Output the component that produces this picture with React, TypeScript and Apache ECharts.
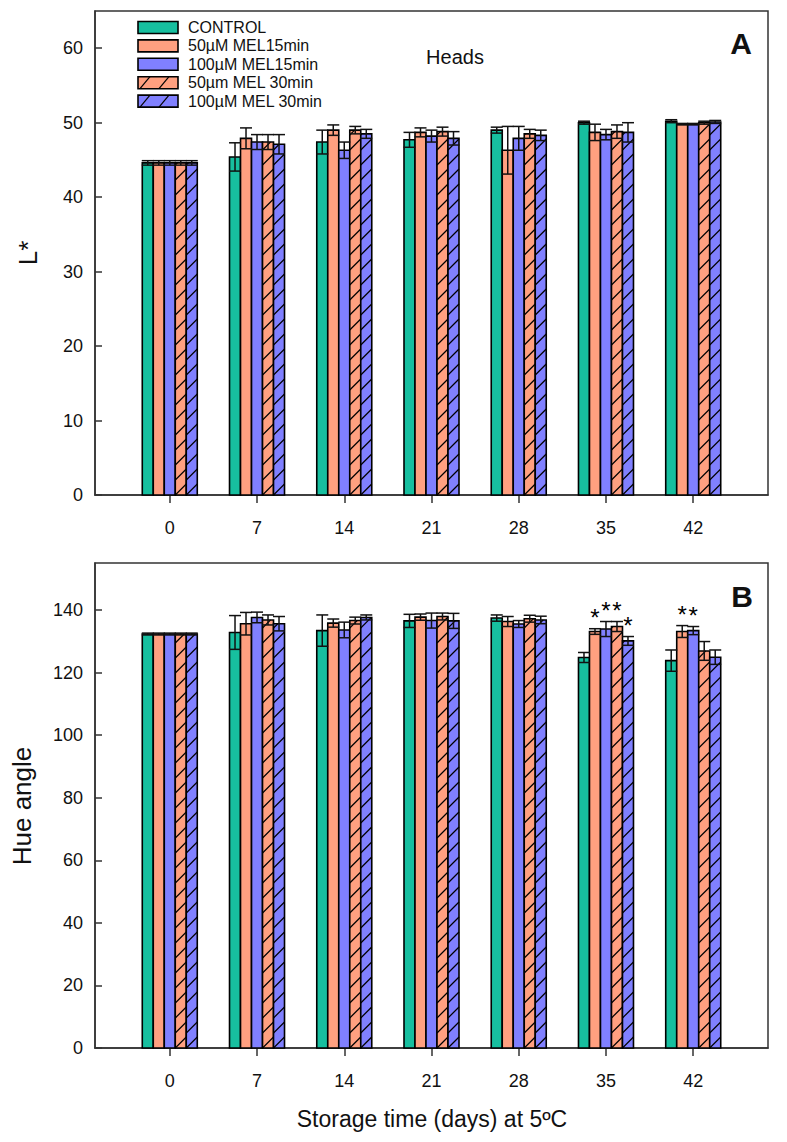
import React, { useEffect, useRef } from "react";
import * as echarts from "echarts";

const FONT = "'Liberation Sans', Arial, Helvetica, sans-serif";

const days = [0, 7, 14, 21, 28, 35, 42];
const treatments = ["CONTROL", "50µM MEL15min", "100µM MEL15min", "50µm MEL 30min", "100µM MEL 30min"];
const treatmentColors = ["#17bf9f", "#ffa080", "#8080ff", "#ffa080", "#8080ff"];
const treatmentHatched = [false, false, false, true, true];

// Panel A: L*
const lControl = [44.6, 45.4, 47.4, 47.7, 49.0, 50.0, 50.2];
const lMel50_15 = [44.6, 47.9, 49.0, 48.7, 46.3, 48.7, 49.8];
const lMel100_15 = [44.6, 47.4, 46.3, 48.2, 47.9, 48.4, 49.8];
const lMel50_30 = [44.6, 47.4, 49.0, 48.8, 48.5, 48.8, 50.0];
const lMel100_30 = [44.6, 47.1, 48.5, 47.9, 48.3, 48.7, 50.1];
const lControlErr = [0.3, 1.9, 1.6, 1.0, 0.4, 0.2, 0.2];
const lMel50_15Err = [0.3, 1.4, 0.7, 0.6, 3.2, 1.1, 0.1];
const lMel100_15Err = [0.3, 1.0, 1.1, 0.8, 1.6, 0.7, 0.1];
const lMel50_30Err = [0.3, 1.0, 0.5, 0.6, 0.6, 0.9, 0.2];
const lMel100_30Err = [0.3, 1.3, 0.6, 0.9, 0.7, 1.3, 0.2];

// Panel B: Hue angle
const hueControl = [132.3, 132.8, 133.4, 136.5, 137.4, 124.8, 123.8];
const hueMel50_15 = [132.3, 135.6, 135.8, 137.7, 136.3, 133.1, 133.1];
const hueMel100_15 = [132.3, 137.6, 133.6, 136.6, 135.5, 133.9, 133.4];
const hueMel50_30 = [132.3, 136.8, 136.6, 137.9, 137.2, 134.7, 126.9];
const hueMel100_30 = [132.3, 135.6, 137.6, 136.5, 136.8, 130.1, 124.9];
const hueControlErr = [0.3, 5.4, 5.0, 2.1, 1.0, 1.6, 3.4];
const hueMel50_15Err = [0.3, 3.6, 1.3, 1.0, 1.6, 0.9, 1.9];
const hueMel100_15Err = [0.3, 1.7, 2.5, 2.4, 1.1, 2.4, 1.3];
const hueMel50_30Err = [0.3, 1.6, 1.1, 1.1, 1.1, 1.6, 3.0];
const hueMel100_30Err = [0.3, 2.3, 0.8, 2.4, 1.2, 1.4, 2.3];
// significance asterisks (1 = "*")
const hueSigControl = [0, 0, 0, 0, 0, 0, 0];
const hueSigMel50_15 = [0, 0, 0, 0, 0, 1, 1];
const hueSigMel100_15 = [0, 0, 0, 0, 0, 1, 1];
const hueSigMel50_30 = [0, 0, 0, 0, 0, 1, 0];
const hueSigMel100_30 = [0, 0, 0, 0, 0, 1, 0];
const noSig = [0, 0, 0, 0, 0, 0, 0];

const lValues = [lControl, lMel50_15, lMel100_15, lMel50_30, lMel100_30];
const lErrors = [lControlErr, lMel50_15Err, lMel100_15Err, lMel50_30Err, lMel100_30Err];
const hueValues = [hueControl, hueMel50_15, hueMel100_15, hueMel50_30, hueMel100_30];
const hueErrors = [hueControlErr, hueMel50_15Err, hueMel100_15Err, hueMel50_30Err, hueMel100_30Err];
const hueSig = [hueSigControl, hueSigMel50_15, hueSigMel100_15, hueSigMel50_30, hueSigMel100_30];

const BAR_W = 11;
const HATCH_SP = 15;
const HATCH_RISE = 11;
const CAP_HALF = 6;

function hatchLines(x0: number, x1: number, yb: number, yt: number, sp: number, rise: number) {
  const out: any[] = [];
  for (let ys = yb; ys > yt + 0.5; ys -= sp) {
    let xe = x1;
    let ye = ys - rise;
    if (ye < yt) {
      const t = (ys - yt) / rise;
      xe = x0 + t * (x1 - x0);
      ye = yt;
    }
    out.push({
      type: "line",
      shape: { x1: x0, y1: ys, x2: xe, y2: ye },
      style: { stroke: "#000", lineWidth: 1.2 },
    });
  }
  return out;
}

const barRender = (ti: number) => (params: any, api: any) => {
  const d = api.value(0);
  const v = api.value(1);
  const p0 = api.coord([d, 0]);
  const p1 = api.coord([d, v]);
  const cx = p0[0] + (ti - 2) * BAR_W;
  const x0 = cx - BAR_W / 2;
  const x1 = cx + BAR_W / 2;
  const shape = { x: x0, y: p1[1], width: BAR_W, height: p0[1] - p1[1] };
  const children: any[] = [
    { type: "rect", shape, style: { fill: treatmentColors[ti], stroke: "none" } },
  ];
  if (treatmentHatched[ti]) children.push(...hatchLines(x0, x1, p0[1], p1[1], HATCH_SP, HATCH_RISE));
  children.push({ type: "rect", shape, style: { fill: "none", stroke: "#000", lineWidth: 1.6 } });
  return { type: "group", children };
};

const errRender = (ti: number) => (params: any, api: any) => {
  const d = api.value(0);
  const v = api.value(1);
  const e = api.value(2);
  const s = api.value(3);
  const pt = api.coord([d, v + e]);
  const pb = api.coord([d, v - e]);
  const cx = pt[0] + (ti - 2) * BAR_W;
  const st = { stroke: "#111", lineWidth: 1.5 };
  const children: any[] = [
    { type: "line", shape: { x1: cx, y1: pt[1], x2: cx, y2: pb[1] }, style: st },
    { type: "line", shape: { x1: cx - CAP_HALF, y1: pt[1], x2: cx + CAP_HALF, y2: pt[1] }, style: st },
    { type: "line", shape: { x1: cx - CAP_HALF, y1: pb[1], x2: cx + CAP_HALF, y2: pb[1] }, style: st },
  ];
  if (s) {
    children.push({
      type: "text",
      x: cx,
      y: pt[1] - 11,
      style: {
        text: "*",
        fontSize: 24,
        fontFamily: FONT,
        fill: "#000",
        align: "center",
        verticalAlign: "middle",
        textAlign: "center",
        textVerticalAlign: "middle",
      },
    });
  }
  return { type: "group", children };
};

function buildSeries(values: number[][], errors: number[][], sigs: number[][], axisIndex: number) {
  const out: any[] = [];
  values.forEach((vals, ti) => {
    out.push({
      type: "custom",
      name: treatments[ti],
      xAxisIndex: axisIndex,
      yAxisIndex: axisIndex,
      renderItem: barRender(ti),
      encode: { x: 0, y: 1 },
      data: days.map((d, j) => [d, vals[j]]),
      z: 2,
      silent: true,
    });
  });
  values.forEach((vals, ti) => {
    out.push({
      type: "custom",
      name: treatments[ti] + " err",
      xAxisIndex: axisIndex,
      yAxisIndex: axisIndex,
      renderItem: errRender(ti),
      encode: { x: 0, y: 1 },
      data: days.map((d, j) => [d, vals[j], errors[ti][j], sigs[ti][j]]),
      z: 3,
      silent: true,
    });
  });
  return out;
}

const axisColor = "#333";

function xAxisCfg(gridIndex: number) {
  return {
    gridIndex,
    type: "value",
    min: -6,
    max: 48,
    axisLine: { show: true, onZero: false, lineStyle: { color: axisColor, width: 1.5 } },
    axisTick: {
      show: true,
      inside: false,
      length: 8,
      lineStyle: { color: axisColor, width: 1.5 },
      customValues: days,
    },
    axisLabel: {
      customValues: days,
      fontSize: 18,
      color: "#111",
      fontFamily: FONT,
      margin: 24,
    },
    splitLine: { show: false },
  };
}

function yAxisCfg(gridIndex: number, max: number, interval: number) {
  return {
    gridIndex,
    type: "value",
    min: 0,
    max,
    interval,
    axisLine: { show: true, onZero: false, lineStyle: { color: axisColor, width: 1.5 } },
    axisTick: { show: true, inside: true, length: 7, lineStyle: { color: axisColor, width: 1.5 } },
    axisLabel: { fontSize: 18, color: "#111", fontFamily: FONT, margin: 12, showMaxLabel: false },
    splitLine: { show: false },
  };
}

function legendGraphic() {
  const els: any[] = [];
  const x0 = 138;
  const w = 40;
  const h = 12;
  treatments.forEach((name, i) => {
    const y = 21.5 + i * 18.4;
    els.push({
      type: "rect",
      shape: { x: x0, y, width: w, height: h },
      style: { fill: treatmentColors[i], stroke: "none" },
    });
    if (treatmentHatched[i]) {
      [2, 21].forEach((off) => {
        els.push({
          type: "line",
          shape: { x1: x0 + off, y1: y + h, x2: x0 + off + 10, y2: y },
          style: { stroke: "#000", lineWidth: 1.2 },
        });
      });
    }
    els.push({
      type: "rect",
      shape: { x: x0, y, width: w, height: h },
      style: { fill: "none", stroke: "#000", lineWidth: 1.6 },
    });
    els.push({
      type: "text",
      x: 188,
      y: y + h / 2,
      style: {
        text: name,
        fontSize: 16,
        fontFamily: FONT,
        fill: "#111",
        align: "left",
        verticalAlign: "middle",
        textAlign: "left",
        textVerticalAlign: "middle",
      },
    });
  });
  return els;
}

function textEl(text: string, x: number, y: number, size: number, opts: any = {}) {
  return {
    type: "text",
    x,
    y,
    rotation: opts.rotation || 0,
    style: {
      text,
      fontSize: size,
      fontWeight: opts.bold ? "bold" : "normal",
      fontFamily: FONT,
      fill: "#111",
      align: "center",
      verticalAlign: "middle",
      textAlign: "center",
      textVerticalAlign: "middle",
    },
  };
}

export default function App() {
  const ref = useRef<HTMLDivElement>(null);
  useEffect(() => {
    if (!ref.current) return;
    const chart = echarts.init(ref.current, null, { renderer: "svg" });
    const option: any = {
      animation: false,
      backgroundColor: "#fff",
      grid: [
        { left: 95, top: 11, width: 673, height: 484, show: true, borderColor: axisColor, borderWidth: 1.5, backgroundColor: "transparent" },
        { left: 95, top: 563, width: 673, height: 485, show: true, borderColor: axisColor, borderWidth: 1.5, backgroundColor: "transparent" },
      ],
      xAxis: [xAxisCfg(0), xAxisCfg(1)],
      yAxis: [yAxisCfg(0, 65, 10), yAxisCfg(1, 155, 20)],
      series: [
        ...buildSeries(lValues, lErrors, lValues.map(() => noSig), 0),
        ...buildSeries(hueValues, hueErrors, hueSig, 1),
      ],
      graphic: [
        ...legendGraphic(),
        textEl("Heads", 455, 57, 20),
        textEl("A", 741, 43, 30, { bold: true }),
        textEl("B", 742, 596, 30, { bold: true }),
        textEl("L*", 28, 253, 26, { rotation: Math.PI / 2 }),
        textEl("Hue angle", 22, 806, 26, { rotation: Math.PI / 2 }),
        textEl("Storage time (days) at 5ºC", 432, 1119, 23),
      ],
    };
    chart.setOption(option);
    return () => chart.dispose();
  }, []);
  return (
    <div
      ref={ref}
      style={{ position: "absolute", left: 0, top: 0, width: 787, height: 1142, background: "#fff" }}
    />
  );
}
